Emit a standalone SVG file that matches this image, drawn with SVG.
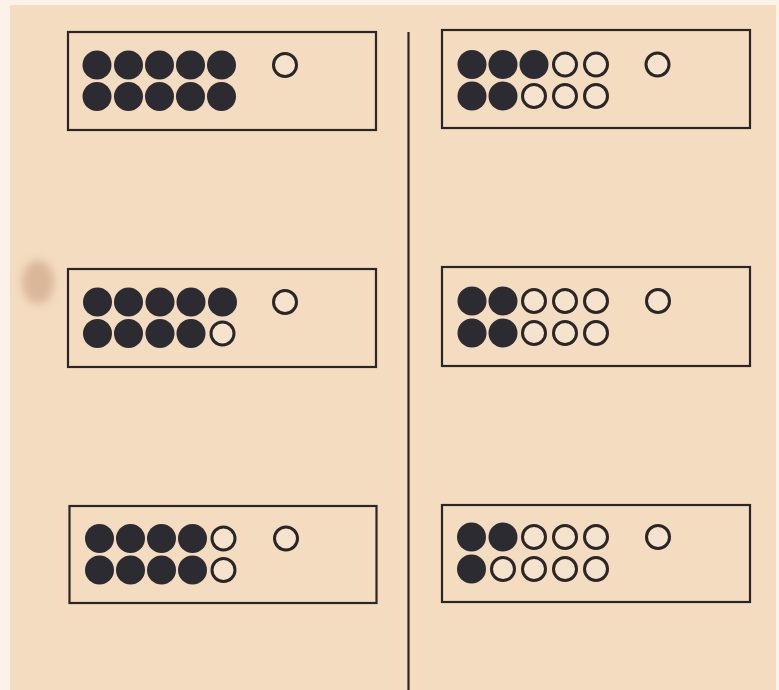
<svg xmlns="http://www.w3.org/2000/svg" width="779" height="690" viewBox="0 0 779 690">
<defs>
<style>
.box{fill:none;stroke:#2b2626;stroke-width:2.2}
.f{fill:#2c2b31}
.o{fill:#f6e3cd;stroke:#2b2626;stroke-width:3}
</style>
<filter id="blur" x="-50%" y="-50%" width="200%" height="200%"><feGaussianBlur stdDeviation="4"/></filter>
<circle id="F" class="f" r="14.5"/>
<circle id="O" class="o" r="11.5"/>
</defs>
<rect width="779" height="690" fill="#fbf3ea"/>
<rect x="10" y="5" width="766" height="685" fill="#f4dcc1"/>
<ellipse cx="38" cy="282" rx="16" ry="22" fill="#c99f80" opacity="0.6" filter="url(#blur)"/>
<g id="connectors">
<line x1="408.5" y1="32" x2="408.5" y2="690" stroke="#2b2626" stroke-width="2.2"/>
</g>
<g id="box1">
<rect class="box" x="68" y="32" width="308" height="98"/>
<use href="#F" x="97" y="65"/><use href="#F" x="128.5" y="65"/><use href="#F" x="159.5" y="65"/><use href="#F" x="190.5" y="65"/><use href="#F" x="221.5" y="65"/>
<use href="#F" x="97" y="96.5"/><use href="#F" x="128.5" y="96.5"/><use href="#F" x="159.5" y="96.5"/><use href="#F" x="190.5" y="96.5"/><use href="#F" x="221.5" y="96.5"/>
<use href="#O" x="285" y="65"/>
</g>
<g id="box2">
<rect class="box" x="442" y="30" width="308" height="98"/>
<use href="#F" x="472" y="64.5"/><use href="#F" x="503" y="64.5"/><use href="#F" x="534" y="64.5"/><use href="#O" x="565" y="64.5"/><use href="#O" x="596" y="64.5"/>
<use href="#F" x="472" y="96"/><use href="#F" x="503" y="96"/><use href="#O" x="534" y="96"/><use href="#O" x="565" y="96"/><use href="#O" x="596" y="96"/>
<use href="#O" x="657.5" y="64.5"/>
</g>
<g id="box3">
<rect class="box" x="68" y="269" width="308" height="98"/>
<use href="#F" x="97.5" y="302"/><use href="#F" x="128.5" y="302"/><use href="#F" x="160" y="302"/><use href="#F" x="191" y="302"/><use href="#F" x="222.5" y="302"/>
<use href="#F" x="97.5" y="333.5"/><use href="#F" x="128.5" y="333.5"/><use href="#F" x="160" y="333.5"/><use href="#F" x="191" y="333.5"/><use href="#O" x="222.5" y="333.5"/>
<use href="#O" x="285" y="302"/>
</g>
<g id="box4">
<rect class="box" x="442" y="267" width="308" height="99"/>
<use href="#F" x="472" y="301"/><use href="#F" x="503" y="301"/><use href="#O" x="534" y="301"/><use href="#O" x="565" y="301"/><use href="#O" x="596" y="301"/>
<use href="#F" x="472" y="333"/><use href="#F" x="503" y="333"/><use href="#O" x="534" y="333"/><use href="#O" x="565" y="333"/><use href="#O" x="596" y="333"/>
<use href="#O" x="658" y="301"/>
</g>
<g id="box5">
<rect class="box" x="69.5" y="506" width="307" height="97"/>
<use href="#F" x="99.5" y="538.5"/><use href="#F" x="130.5" y="538.5"/><use href="#F" x="161.5" y="538.5"/><use href="#F" x="192.5" y="538.5"/><use href="#O" x="223.5" y="538.5"/>
<use href="#F" x="99.5" y="570"/><use href="#F" x="130.5" y="570"/><use href="#F" x="161.5" y="570"/><use href="#F" x="192.5" y="570"/><use href="#O" x="223.5" y="570"/>
<use href="#O" x="286" y="538.5"/>
</g>
<g id="box6">
<rect class="box" x="442" y="505" width="308" height="97"/>
<use href="#F" x="471.5" y="537"/><use href="#F" x="503" y="537"/><use href="#O" x="534" y="537"/><use href="#O" x="565" y="537"/><use href="#O" x="596" y="537"/>
<use href="#F" x="471.5" y="569"/><use href="#O" x="503" y="569"/><use href="#O" x="534" y="569"/><use href="#O" x="565" y="569"/><use href="#O" x="596" y="569"/>
<use href="#O" x="658" y="537"/>
</g>
</svg>
